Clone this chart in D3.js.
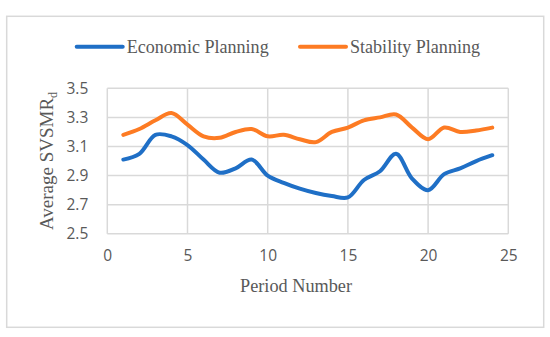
<!DOCTYPE html>
<html>
<head>
<meta charset="utf-8">
<title>Average SVSMR by period</title>
<script src="https://d3js.org/d3.v7.min.js"></script>
<style>
  body { margin: 0; background: #fff; }
  svg { display: block; }
  .tick text { font-family: "Open Sans", sans-serif; font-size: 15.5px; fill: #595959; }
  .lbl { font-family: "Liberation Serif", "Times New Roman", serif; fill: #595959; }
</style>
</head>
<body>
<div id="chart"></div>
<script>
// period numbers and series values
var periods = [1,2,3,4,5,6,7,8,9,10,11,12,13,14,15,16,17,18,19,20,21,22,23,24];
var economic = [3.01,3.05,3.18,3.17,3.11,3.01,2.92,2.95,3.01,2.90,2.85,2.81,2.78,2.76,2.75,2.87,2.93,3.05,2.88,2.80,2.91,2.95,3.00,3.04];
var stability = [3.18,3.22,3.28,3.33,3.25,3.17,3.16,3.20,3.22,3.17,3.18,3.15,3.13,3.20,3.23,3.28,3.30,3.32,3.23,3.15,3.23,3.20,3.21,3.23];
var xTicks = [0,5,10,15,20,25];
var yTicks = [2.5,2.7,2.9,3.1,3.3,3.5];
var seriesNames = ["Economic Planning", "Stability Planning"];
var colors = ["#1f6fc6", "#fd7b23"];

var W = 550, H = 337;
// plot box (window.top is reserved, so no "top" here)
var pL = 107.3, pR = 508.3, pT = 88.3, pB = 233.8;

var svg = d3.select("#chart").append("svg")
  .attr("width", W).attr("height", H);

// chart frame
svg.append("rect")
  .attr("x", 6.7).attr("y", 16.3)
  .attr("width", 537).attr("height", 311)
  .attr("fill", "#fff")
  .attr("stroke", "#d9d9d9").attr("stroke-width", 1.5);

var x = d3.scaleLinear().domain([0, 25]).range([pL, pR]);
var y = d3.scaleLinear().domain([2.5, 3.5]).range([pB, pT]);

// gridlines
svg.append("g").selectAll("line")
  .data(yTicks).enter().append("line")
  .attr("x1", pL).attr("x2", pR)
  .attr("y1", d => y(d)).attr("y2", d => y(d))
  .attr("stroke", "#d9d9d9").attr("stroke-width", 1.5);
svg.append("g").selectAll("line")
  .data(xTicks).enter().append("line")
  .attr("y1", pT).attr("y2", pB)
  .attr("x1", d => x(d)).attr("x2", d => x(d))
  .attr("stroke", "#d9d9d9").attr("stroke-width", 1.5);

// axes (labels only)
var xAxis = svg.append("g")
  .attr("transform", "translate(0," + pB + ")")
  .call(d3.axisBottom(x).tickValues(xTicks).tickSize(0).tickPadding(16));
xAxis.select(".domain").remove();

var yAxis = svg.append("g")
  .attr("transform", "translate(" + pL + ",0)")
  .call(d3.axisLeft(y).tickValues(yTicks).tickFormat(d3.format(".1f")).tickSize(0).tickPadding(19));
yAxis.select(".domain").remove();

// series
var line = d3.line()
  .x((d, i) => x(periods[i]))
  .y(d => y(d))
  .curve(d3.curveCatmullRom);

[economic, stability].forEach(function(s, k) {
  svg.append("path")
    .datum(s)
    .attr("d", line)
    .attr("fill", "none")
    .attr("stroke", colors[k])
    .attr("stroke-width", 4)
    .attr("stroke-linecap", "round")
    .attr("stroke-linejoin", "round");
});

// legend
var legX = [76.7, 300];
var legW = [142, 130];
seriesNames.forEach(function(n, k) {
  svg.append("line")
    .attr("x1", legX[k]).attr("x2", legX[k] + 46)
    .attr("y1", 46.7).attr("y2", 46.7)
    .attr("stroke", colors[k]).attr("stroke-width", 4)
    .attr("stroke-linecap", "round");
  svg.append("text")
    .attr("class", "lbl")
    .attr("x", legX[k] + 50).attr("y", 52.7)
    .attr("font-size", 19)
    .attr("textLength", legW[k])
    .attr("lengthAdjust", "spacingAndGlyphs")
    .text(n);
});

// axis titles
svg.append("text")
  .attr("class", "lbl")
  .attr("x", 296).attr("y", 291.7)
  .attr("text-anchor", "middle")
  .attr("font-size", 19)
  .attr("textLength", 112)
  .attr("lengthAdjust", "spacingAndGlyphs")
  .text("Period Number");

var yt = svg.append("text")
  .attr("class", "lbl")
  .attr("transform", "translate(53,161) rotate(-90)")
  .attr("text-anchor", "middle")
  .attr("font-size", 19);
yt.append("tspan").text("Average SVSMR");
yt.append("tspan").attr("font-size", 12).attr("dy", 4).text("d");
</script>
</body>
</html>
